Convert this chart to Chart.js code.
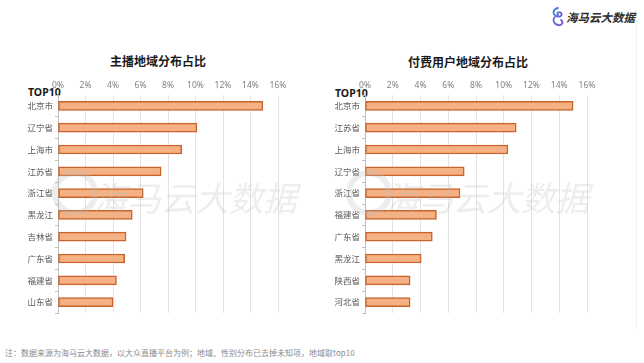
<!DOCTYPE html>
<html><head><meta charset="utf-8">
<script src="https://cdn.jsdelivr.net/npm/chart.js@4/dist/chart.umd.min.js"></script>
<style>
html,body{margin:0;padding:0;background:#fff;width:644px;height:363px;overflow:hidden;font-family:"Noto Sans CJK SC","Noto Sans",sans-serif;}
.abs{position:absolute;}
.title{font-weight:bold;font-size:12px;color:#1a1a1a;white-space:nowrap;transform:translateX(-50%);}
.top10{font-weight:bold;font-size:10.5px;color:#1a1a1a;font-family:"Noto Sans","Noto Sans CJK SC",sans-serif;}
.wm{font-size:34px;color:rgba(190,190,190,0.28);font-style:italic;white-space:nowrap;pointer-events:none;letter-spacing:0px;}
.wmlogo{width:34px;height:34px;border:6px solid rgba(190,190,190,0.28);border-radius:50%;pointer-events:none;}
</style></head>
<body>
<div class="abs" style="left:636px;top:10px;width:1px;height:320px;background:#f0f0f0"></div>
<svg class="abs" style="left:551px;top:7px" width="14" height="20" viewBox="0 0 14 20">
<defs><linearGradient id="g" x1="0" y1="0" x2="1" y2="1"><stop offset="0" stop-color="#3b8fe0"/><stop offset="1" stop-color="#8a3fd1"/></linearGradient></defs>
<path d="M7 1 C2 2 1 7 5 9 C9 11 12 8 10 6 C8 4 5 6 7 8 M5 9 C1 11 2 17 7 18 C11 19 13 15 10 13" fill="none" stroke="url(#g)" stroke-width="1.8" stroke-linecap="round"/>
</svg>
<div class="abs" style="left:566px;top:9px;font-size:11.5px;font-weight:bold;font-style:italic;color:#2b2b2b;white-space:nowrap">海马云大数据</div>

<div class="abs title" style="left:158px;top:52px">主播地域分布占比</div>
<div class="abs title" style="left:468px;top:53px">付费用户地域分布占比</div>
<div class="abs top10" style="left:28px;top:85px">TOP10</div>
<div class="abs top10" style="left:335px;top:86px">TOP10</div>

<div class="abs" style="left:0;top:75px;width:320px;height:250px"><canvas id="c1" width="320" height="250"></canvas></div>
<div class="abs" style="left:320px;top:75px;width:324px;height:250px"><canvas id="c2" width="324" height="250"></canvas></div>

<div class="abs wmlogo" style="left:52px;top:170px"></div>
<div class="abs wm" style="left:93px;top:172px">海马云大数据</div>
<div class="abs wmlogo" style="left:346px;top:170px"></div>
<div class="abs wm" style="left:385px;top:172px">海马云大数据</div>

<div class="abs" style="left:5px;top:347px;font-size:8px;color:#8c8c8c;white-space:nowrap">注：数据来源为海马云大数据，以大众直播平台为例；地域、性别分布已去掉未知项，地域取top10</div>

<script>
const leftCategories = ["北京市","辽宁省","上海市","江苏省","浙江省","黑龙江","吉林省","广东省","福建省","山东省"];
const leftValues = [14.9, 10.1, 9.0, 7.5, 6.2, 5.4, 4.95, 4.85, 4.25, 4.0];
const rightCategories = ["北京市","江苏省","上海市","辽宁省","浙江省","福建省","广东省","黑龙江","陕西省","河北省"];
const rightValues = [15.0, 10.9, 10.3, 7.15, 6.85, 5.15, 4.85, 4.05, 3.25, 3.25];
const tickValues = [0, 2, 4, 6, 8, 10, 12, 14, 16];

function makeChart(id, cats, vals, yWidth, padRight) {
  new Chart(document.getElementById(id), {
    type: 'bar',
    data: { labels: cats, datasets: [{ data: vals, backgroundColor: '#F4B183', borderColor: '#C9632A', borderWidth: 1.5, borderSkipped: false, barThickness: 9 }] },
    options: {
      indexAxis: 'y', responsive: false, animation: false,
      layout: { padding: { top: 0, right: padRight, bottom: 12, left: 0 } },
      plugins: { legend: { display: false }, tooltip: { enabled: false } },
      scales: {
        x: {
          position: 'top', min: 0, max: 16,
          afterBuildTicks: s => { s.ticks = tickValues.map(v => ({ value: v })); },
          afterFit: s => { s.height = 20; },
          ticks: { color: '#808080', font: { size: 8.5, family: 'Noto Sans' }, padding: 4, maxRotation: 0, callback: v => v + '%' },
          grid: { color: '#e3e3e3', drawTicks: false },
          border: { display: false }
        },
        y: {
          afterFit: s => { s.width = yWidth; },
          ticks: { color: '#595959', font: { size: 8.5, family: 'Noto Sans CJK SC' }, padding: 2 },
          grid: { display: true, drawOnChartArea: false, tickLength: 3, color: '#bfbfbf', offset: true },
          border: { display: true, color: '#bfbfbf' }
        }
      }
    }
  });
}
makeChart('c1', leftCategories, leftValues, 58, 42);
makeChart('c2', rightCategories, rightValues, 45, 57);
</script>
</body></html>
